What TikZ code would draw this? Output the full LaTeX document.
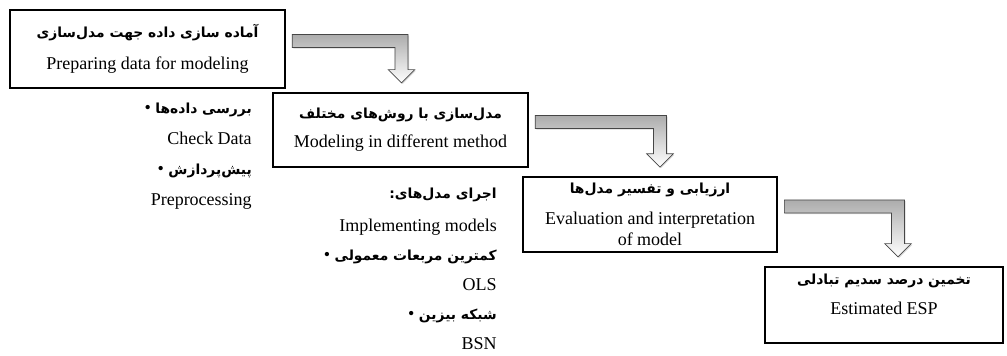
\documentclass[tikz,border=0pt]{standalone}
\usepackage{fontspec}
\setmainfont{Liberation Serif}
\newfontfamily\persianfont[Script=Arabic]{DejaVu Sans}
\TeXXeTstate=1
\usetikzlibrary{calc,shadows}
\newcommand\fatext[1]{\mbox{\persianfont\bfseries\fontsize{10.4}{16}\selectfont\beginR #1\endR}}
% bent block arrow from the east side of one box down onto the next box
\newcommand\blockarrow[3][0pt]{%
  \draw[bentarrow] let \p1=(#2.east), \p2=($(#3.north)+(#1,7pt)$) in
    (\x1+5pt,\y1+10.9pt) -- (\x2+4.9pt,\y1+10.9pt) -- (\x2+4.9pt,\y2+10pt)
    -- (\x2+10pt,\y2+10pt) -- (\x2,\y2) -- (\x2-10pt,\y2+10pt) -- (\x2-4.9pt,\y2+10pt)
    -- (\x2-4.9pt,\y1+1.1pt) -- (\x1+5pt,\y1+1.1pt) -- cycle;}

\begin{document}
\begin{tikzpicture}[x=0.75pt,y=-0.75pt,
stepbox/.style={rectangle, align=center, draw=black, line width=1.1pt, inner sep=0pt, font=\fontsize{13.5}{16}\selectfont},
listtext/.style={align=right, inner sep=0pt, font=\fontsize{13.5}{22.2}\selectfont},
bentarrow/.style={draw=gray!55!black, line width=0.5pt, top color=gray!65, bottom color=white, drop shadow={opacity=0.3, shadow xshift=0.8pt, shadow yshift=-0.8pt}},
]
\useasboundingbox (0,0) rectangle (1007,356);
%Nodes
\node[stepbox, minimum width=206pt, minimum height=58.5pt](prep) at (147.5,49)
  {\fatext{آماده سازی داده جهت مدل‌سازی}\\[8pt] Preparing data for modeling};
\node[stepbox, minimum width=191pt, minimum height=55.5pt](model) at (400.5,130)
  {\fatext{مدل‌سازی با روش‌های مختلف}\\[6pt] Modeling in different method};
\node[stepbox, minimum width=190.5pt, minimum height=56pt](eval) at (650,214.5)
  {\fatext{ارزیابی و تفسیر مدل‌ها}\\[7pt] Evaluation and interpretation\\ of model};
\node[stepbox, minimum width=178.5pt, minimum height=57pt, text depth=16pt](esp) at (884,305)
  {\fatext{تخمین درصد سدیم تبادلی}\\[6pt] Estimated ESP};

\node[listtext, anchor=north east](prep list) at (252,103)
  {\textbullet\ \fatext{بررسی داده‌ها}\\[1pt] Check Data\\ \textbullet\ \fatext{پیش‌پردازش}\\[1pt] Preprocessing};
\node[listtext, anchor=north east](model list) at (497,188)
  {\fatext{اجرای مدل‌های:}\\[2pt] Implementing models\\ \textbullet\ \fatext{کمترین مربعات معمولی}\\ OLS\\ \textbullet\ \fatext{شبکه بیزین}\\ BSN};

%Lines
\blockarrow[0.75pt]{prep}{model}
\blockarrow[7.5pt]{model}{eval}
\blockarrow[10.5pt]{eval}{esp}
\end{tikzpicture}
\end{document}
